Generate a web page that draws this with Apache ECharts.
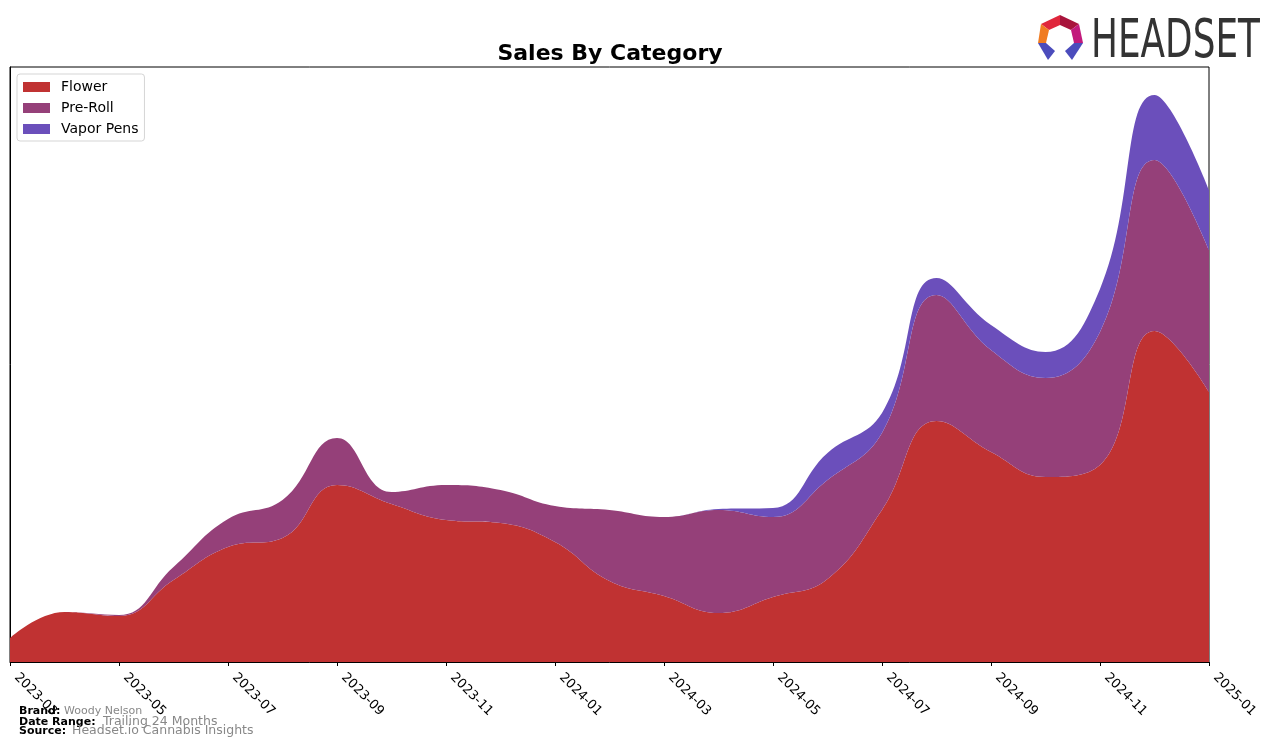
<!DOCTYPE html>
<html>
<head>
<meta charset="utf-8">
<script src="https://cdn.jsdelivr.net/npm/echarts@6/dist/echarts.min.js"></script>
<style>
html,body{margin:0;padding:0;background:#fff;}
#chart{width:1276px;height:748px;}
</style>
</head>
<body>
<div id="chart"></div>
<script>
// Monthly categories (x axis)
const months = ["2023-03","2023-04","2023-05","2023-06","2023-07","2023-08","2023-09","2023-10","2023-11","2023-12",
  "2024-01","2024-02","2024-03","2024-04","2024-05","2024-06","2024-07","2024-08","2024-09","2024-10","2024-11","2024-12","2025-01"];
// Series values (estimated, arbitrary sales units)
const flower    = [24, 50, 46, 82, 115, 124, 177, 158, 142, 139, 120, 81, 66, 49, 65, 83, 152, 241, 210, 185, 197, 331, 270];
const preRoll   = [0, 0, 1, 13, 28, 38, 47, 12, 35, 33, 36, 71, 79, 103, 80, 99, 77, 126, 102, 99, 133, 171, 142];
const vaporPens = [0, 0, 0, 0, 0, 0, 0, 0, 0, 0, 0, 0, 0, 1, 9, 27, 20, 17, 25, 26, 43, 65, 60];
const yMax = 595;

const FONT = "'DejaVu Sans', sans-serif";

const chart = echarts.init(document.getElementById('chart'), null, {renderer: 'canvas'});

function mkSeries(name, data, color) {
  return {
    name: name,
    type: 'line',
    stack: 'total',
    smooth: 0.45,
    symbol: 'none',
    data: data,
    lineStyle: {width: 0},
    itemStyle: {color: color},
    areaStyle: {color: color, opacity: 1},
    emphasis: {disabled: true}
  };
}

const option = {
  animation: false,
  backgroundColor: '#ffffff',
  grid: {left: 10, right: 67, top: 67, bottom: 86, show: true, borderColor: '#000', borderWidth: 1, backgroundColor: 'transparent'},
  legend: {
    orient: 'vertical',
    left: 17, top: 74,
    padding: [6, 6, 5, 6],
    itemGap: 7,
    itemWidth: 27, itemHeight: 10,
    icon: 'rect',
    borderColor: '#d5d5d5', borderWidth: 1, borderRadius: 3,
    backgroundColor: 'rgba(255,255,255,0.8)',
    textStyle: {fontFamily: FONT, fontSize: 14, color: '#000', lineHeight: 14, padding: [0, 0, 0, 6]},
    data: ['Flower', 'Pre-Roll', 'Vapor Pens']
  },
  xAxis: {
    type: 'category',
    data: months,
    boundaryGap: false,
    axisLine: {show: true, lineStyle: {color: '#000', width: 1}},
    axisTick: {show: true, length: 4, interval: 1, alignWithLabel: true, lineStyle: {color: '#000'}},
    splitLine: {show: false},
    axisLabel: {
      interval: 1,
      rotate: -45, margin: 7,
      padding: [0, 0, 0, 9],
      fontFamily: FONT, fontSize: 13, color: '#000'
    }
  },
  yAxis: {
    type: 'value', min: 0, max: yMax,
    axisLine: {show: true, lineStyle: {color: '#000'}},
    axisTick: {show: false}, axisLabel: {show: false}, splitLine: {show: false}
  },
  series: [
    mkSeries('Flower', flower, '#c03232'),
    mkSeries('Pre-Roll', preRoll, '#954079'),
    mkSeries('Vapor Pens', vaporPens, '#6b4fbb')
  ],
  graphic: [
    {type: 'text', x: 610, y: 54, style: {text: 'Sales By Category', font: "bold 22px " + FONT, fill: '#000', textAlign: 'center', textVerticalAlign: 'middle'}},
    // footer
    {type: 'text', x: 19, y: 711, style: {text: 'Brand:', font: "bold 11px " + FONT, fill: '#000', textVerticalAlign: 'middle'}},
    {type: 'text', x: 64, y: 711, style: {text: 'Woody Nelson', font: "11px " + FONT, fill: '#888', textVerticalAlign: 'middle'}},
    {type: 'text', x: 19, y: 722, style: {text: 'Date Range:', font: "bold 11px " + FONT, fill: '#000', textVerticalAlign: 'middle'}},
    {type: 'text', x: 103, y: 722, style: {text: 'Trailing 24 Months', font: "12.5px " + FONT, fill: '#888', textVerticalAlign: 'middle'}},
    {type: 'text', x: 19, y: 731, style: {text: 'Source:', font: "bold 11px " + FONT, fill: '#000', textVerticalAlign: 'middle'}},
    {type: 'text', x: 72, y: 731, style: {text: 'Headset.io Cannabis Insights', font: "12.5px " + FONT, fill: '#888', textVerticalAlign: 'middle'}},
    // logo icon
    {type: 'polygon', shape: {points: [[1041,24],[1060,15],[1060,25],[1049,30]]}, style: {fill: '#e0263c'}},
    {type: 'polygon', shape: {points: [[1060,15],[1079,24],[1071,30],[1060,25]]}, style: {fill: '#a8143c'}},
    {type: 'polygon', shape: {points: [[1079,24],[1083,43],[1074,43],[1071,30]]}, style: {fill: '#c21a7c'}},
    {type: 'polygon', shape: {points: [[1041,24],[1049,30],[1046,43],[1038,43]]}, style: {fill: '#f07c22'}},
    {type: 'polygon', shape: {points: [[1038,43],[1046,43],[1055,51],[1048,60]]}, style: {fill: '#4b4cbc'}},
    {type: 'polygon', shape: {points: [[1083,43],[1074,43],[1065,51],[1072,60]]}, style: {fill: '#4b4cbc'}},
    {type: 'text', x: 1091, y: 43, scaleX: 0.676, style: {text: 'HEADSET', font: "53px " + FONT, fill: '#333333', textVerticalAlign: 'middle'}}
  ]
};
chart.setOption(option);
</script>
</body>
</html>
